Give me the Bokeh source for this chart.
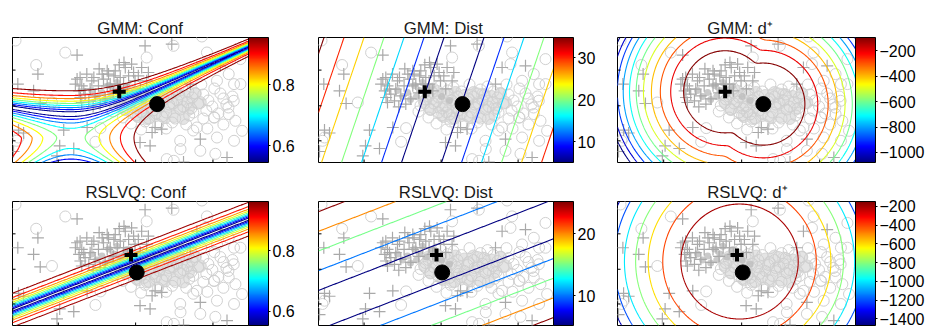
import numpy as np
from bokeh.plotting import figure
from bokeh.layouts import column, row
from bokeh.models import (ColorBar, LinearColorMapper, FixedTicker, Title, CustomJSTickFormatter,
                          LinearAxis)

from bokeh.embed import file_html
from bokeh.resources import INLINE

# ---------------- data ----------------
titles = ["GMM: Conf", "GMM: Dist", "GMM: d\u207a", "RSLVQ: Conf", "RSLVQ: Dist", "RSLVQ: d\u207a"]

x_lim = [0.0, 23.5]
y_lim = [0.0, 12.5]
xtick_vals = [4.56, 12.26, 19.96]
ytick_vals = [2.17, 5.67, 9.24]

# class "+" samples
plus_x = [6.43, 2.53, 0.53, 2.1, 2.76, 0.6, 0.1, 5.1, 4.7, 6.1, 4.43, 7.43, 6.43, 11.1, 13.2, 15.86,
          18.36, 20.7, 14.2, 14.86, 12.7, 13.7, 18.7, 17.03, 21.36, 17.7, 1.1, 13.9,
          6.73, 7.4, 7.9, 6.9, 7.73, 8.56, 9.06, 9.56, 10.23, 10.73, 11.23, 11.56, 12.06, 11.06,
          7.23, 8.23, 6.9, 9.73, 11.86, 12.86, 13.53, 12.53, 13.36, 12.2, 6.26, 8.1, 8.93, 9.43,
          10.1, 7.1, 6.76, 7.6, 9.43, 10.43, 8.73, 10.03, 11.43, 12.73, 9.23, 8.03, 10.63, 8.63, 6.63]
plus_y = [10.74, 8.84, 7.84, 7.17, 5.9, 3.24, 1.1, 3.24, 1.67, 1.4, 0.67, 3.5, 8.34, 10.0, 11.67, 11.84,
          9.5, 9.67, 3.5, 3.34, 2.0, 1.67, 2.34, 0.05, 0.5, 7.84, 2.95, 3.0,
          8.5, 8.84, 8.17, 7.67, 7.34, 7.67, 8.34, 8.84, 9.17, 8.5, 9.5, 8.67, 9.0, 7.84,
          6.84, 6.67, 6.0, 7.84, 9.84, 9.5, 9.0, 8.67, 8.17, 8.17, 7.84, 8.5, 8.84, 9.17,
          8.67, 7.34, 6.5, 6.17, 7.67, 7.84, 5.84, 6.97, 7.17, 7.37, 6.37, 5.57, 9.77, 9.37, 7.17]

# class "o" samples
circ_x = [0.3, 5.26, 2.36, 3.93, 0.6, 8.76, 8.26, 18.86, 16.03, 13.36, 19.36, 19.2, 22.7, 21.53, 22.7,
          20.36, 22.03, 21.53, 18.36, 22.86, 22.2, 20.36, 18.7, 15.36, 16.7, 20.2, 0.4, 16.06, 16.73,
          22.06, 20.06, 22.06,
          12.2, 13.5, 15.1, 16.9, 18.8, 20.1, 11.4, 13.0, 14.3, 15.9, 17.5, 19.0, 20.7, 21.9,
          10.7, 12.0, 13.3, 15.0, 16.4, 17.9, 19.5, 21.0, 10.2, 11.5, 12.7, 15.6, 17.0, 18.5, 19.9, 21.3,
          10.0, 11.2, 12.8, 14.0, 15.3, 16.7, 18.0, 19.3, 20.5, 11.0, 12.3, 13.6, 14.9, 16.2, 17.6, 19.0,
          11.8, 13.2, 14.5, 15.9, 17.3, 12.8, 15.3, 18.0, 20.1, 19.4, 21.5, 21.0,
          11.8, 12.4, 13.8, 14.6, 13.9, 12.9, 14.9, 16.0, 15.5, 16.6, 11.0, 10.6, 13.1, 14.3, 17.4,
          18.2, 16.2, 12.0, 11.5, 17.8]
circ_y = [12.2, 10.99, 9.75, 6.0, 2.5, 3.44, 2.07, 12.6, 11.67, 10.5, 11.0, 9.84, 10.34, 8.84, 7.84,
          8.17, 6.17, 4.84, 3.5, 3.17, 4.17, 2.5, 1.17, 0.34, 2.17, 0.87, 2.17, 0.17, 1.34,
          7.84, 4.5, 2.17,
          7.7, 7.5, 7.8, 7.6, 7.8, 7.4, 7.0, 6.8, 7.1, 6.9, 7.1, 6.8, 6.9, 6.6,
          6.3, 6.5, 6.2, 6.4, 6.2, 6.5, 6.2, 6.4, 5.7, 5.9, 5.6, 5.8, 5.6, 5.9, 5.6, 5.8,
          5.1, 5.3, 5.0, 5.2, 5.0, 5.3, 5.0, 5.2, 4.9, 4.5, 4.7, 4.4, 4.6, 4.4, 4.7, 4.4,
          3.9, 4.1, 3.8, 4.0, 3.8, 3.3, 3.4, 3.2, 4.5, 3.4, 5.5, 3.8,
          6.1, 5.4, 5.9, 5.5, 6.6, 7.2, 6.1, 5.9, 6.6, 6.8, 6.6, 5.9, 4.8, 4.9, 6.0,
          6.9, 7.3, 5.0, 7.4, 5.4]

# very dense part of the "o" cloud (appears as a light grey mass)
mass_x = [11.0, 11.9, 12.8, 13.7, 14.6, 15.5, 16.4, 17.3, 18.2, 10.6, 11.5, 12.4, 13.3, 14.2, 15.1,
          16.0, 16.9, 17.8, 18.7, 11.2, 12.1, 13.0, 13.9, 14.8, 15.7, 16.6, 17.5, 12.5, 13.4, 14.3,
          15.2, 16.1, 17.0]
mass_y = [6.9, 7.1, 6.8, 7.0, 6.7, 7.0, 6.8, 6.6, 6.9, 6.1, 6.3, 6.0, 6.2, 5.9, 6.2, 6.0, 6.1, 5.8,
          6.0, 5.3, 5.5, 5.2, 5.4, 5.1, 5.4, 5.2, 5.3, 4.6, 4.4, 4.7, 4.5, 4.6, 4.4]

# dense core of "+" samples (drawn as small filled dots)
core_x = [7.9, 8.9, 9.6, 8.4, 9.2, 10.1, 10.8, 9.8, 11.3, 10.4, 12.3, 13.1]
core_y = [7.2, 7.0, 7.7, 6.6, 6.3, 7.2, 6.9, 6.6, 7.6, 8.0, 6.6, 6.2]

# prototypes / component means
gmm_plus = [10.63, 7.07]
gmm_circ = [14.4, 5.84]
rslvq_plus = [11.8, 7.1]
rslvq_circ = [12.37, 5.35]

# colour bar limits, ticks and contour levels per panel
cb_low = [0.545, 5.0, -1079.0, 0.553, 5.14, -1470.0]
cb_high = [0.955, 34.8, -95.0, 0.962, 25.25, -147.0]
cb_ticks = [[0.6, 0.8], [10, 20, 30], [-1000, -800, -600, -400, -200],
            [0.6, 0.8], [10, 20], [-1400, -1200, -1000, -800, -600, -400, -200]]
conf_levels = [0.55, 0.60, 0.65, 0.70, 0.75, 0.80, 0.85, 0.90, 0.95]
gmm_dist_levels = [5, 10, 15, 20, 25, 30, 35]
rslvq_dist_levels = [5, 10, 15, 20, 25]
gmm_dplus_levels = [-1100, -1000, -900, -800, -700, -600, -500, -400, -300, -200, -100]
rslvq_dplus_levels = [-1400, -1200, -1000, -800, -600, -400, -200]

# ---------------- model fields ----------------
gx = np.linspace(x_lim[0], x_lim[1], 190)
gy = np.linspace(y_lim[0], y_lim[1], 100)
GX, GY = np.meshgrid(gx, gy)


def jet(t):
    t = min(max(t, 0.0), 1.0)
    r = min(max(1.5 - abs(4 * t - 3), 0), 1)
    g = min(max(1.5 - abs(4 * t - 2), 0), 1)
    b = min(max(1.5 - abs(4 * t - 1), 0), 1)
    return "#%02x%02x%02x" % (int(round(r * 255)), int(round(g * 255)), int(round(b * 255)))


JET = [jet(i / 255.0) for i in range(256)]


def sigmoid_conf(q):
    return 1.0 / (1.0 + np.exp(-np.abs(q)))


# GMM: log-likelihood ratio with a saddle (hyperbola-like decision boundary)
hc = (5.82, 2.5)
hb_up, hb_low, ha = 2.35, 2.8, 4.5
dx, dy = GX - hc[0], GY - hc[1]
a_eff = ha + np.where(dx < 0, 0.97, 0.03) * np.maximum(dy, 0.0)
b_eff = np.where(dy >= 0, hb_up, hb_low)
q_gmm = (dy / b_eff) ** 2 - (dx / a_eff) ** 2 - 1.0
Z_gmm_conf = sigmoid_conf(q_gmm)

# GMM distance to boundary
ug = GX - (12.4 + 0.34 * (GY - 6.17))
Z_gmm_dist = 2.5 * np.abs(ug)

# GMM d+
r1 = (GX - gmm_plus[0]) ** 2 + (GY - gmm_plus[1]) ** 2
r2 = (GX - gmm_circ[0]) ** 2 + (GY - gmm_circ[1]) ** 2
T = 1.0
smin = -T * np.logaddexp(-r1 / T, -r2 / T)
Z_gmm_dplus = 39.6 - 8.29 * smin

# RSLVQ: linear boundary
ur = GY - (10.8 + 0.39 * (GX - 23.7))
Z_rslvq_conf = sigmoid_conf(1.73 * ur)
Z_rslvq_dist = 2.52 * np.abs(ur)

# RSLVQ d+
Z_rslvq_dplus = 81.0 - 8.37 * ((GX - 12.05) ** 2 + (GY - 6.45) ** 2)

fields = [Z_gmm_conf, Z_gmm_dist, Z_gmm_dplus, Z_rslvq_conf, Z_rslvq_dist, Z_rslvq_dplus]
levels = [conf_levels, gmm_dist_levels, gmm_dplus_levels, conf_levels, rslvq_dist_levels, rslvq_dplus_levels]
protos = [(gmm_plus, gmm_circ)] * 3 + [(rslvq_plus, rslvq_circ)] * 3

# ---------------- layout ----------------
frame_w = [236, 235, 238, 236, 235, 238]
frame_h = [125, 125, 125, 124, 124, 124]
b_left = [12, 13, 7, 12, 13, 7]
b_right = [57, 57, 71, 57, 57, 71]
b_top = [37, 37, 37, 31, 31, 31]
b_bot = [8, 8, 8, 9, 9, 9]
title_offset = [84.7, 85.3, 89.7, 73.0, 80.3, 89.7]
title_gap = [12, 12, 12, 10, 10, 10]

FONT = "Liberation Sans"
minus_fmt = CustomJSTickFormatter(code="return (tick < 0 ? '\\u2212' : '') + Math.abs(tick).toString();")

figs = []
for i in range(6):
    p = figure(frame_width=frame_w[i], frame_height=frame_h[i],
               x_range=(x_lim[0], x_lim[1]), y_range=(y_lim[0], y_lim[1]),
               output_backend="svg", toolbar_location=None, title=None,
               min_border_left=b_left[i], min_border_right=b_right[i],
               min_border_top=b_top[i], min_border_bottom=b_bot[i],
               background_fill_color="white", border_fill_color="white")
    # hide the default axes (ticks are drawn as short segments below)
    for ax in list(p.below) + list(p.left):
        ax.visible = False
    # empty (tickless, label-less) axis used as a spacer between frame and title
    spacer = LinearAxis(ticker=FixedTicker(ticks=[]), axis_line_color=None,
                        major_tick_line_color=None, minor_tick_line_color=None,
                        major_tick_in=0, major_tick_out=title_gap[i], minor_tick_out=0,
                        major_label_standoff=0, major_label_text_font_size="1px")
    p.add_layout(spacer, "above")
    p.add_layout(Title(text=titles[i], align="left", offset=title_offset[i],
                       standoff=0, vertical_align="bottom",
                       text_font=FONT, text_font_size="16.8px", text_font_style="normal",
                       text_color="#1a1a1a"), "above")
    p.grid.visible = False
    p.outline_line_color = "black"
    p.outline_line_width = 1
    p.outline_line_alpha = 1.0

    # samples
    p.scatter(mass_x, mass_y, marker="circle", size=12, fill_color="#e4e4e4",
              line_color="#d6d6d6", line_width=1)
    p.scatter(circ_x, circ_y, marker="circle", size=11, fill_color=None,
              line_color="#d0d0d0", line_width=1)
    p.scatter(core_x, core_y, marker="circle", size=7, fill_color="#bdbdbd",
              line_color=None, fill_alpha=0.8)
    p.scatter(plus_x, plus_y, marker="cross", size=12, line_color="#a9a9a9", line_width=1.2)

    # contours
    lo, hi = cb_low[i], cb_high[i]
    cols = [jet((L - lo) / (hi - lo)) for L in levels[i]]
    p.contour(gx, gy, fields[i], levels[i], line_color=cols, line_width=1.1)

    # prototypes
    pp, pc = protos[i]
    p.scatter([pp[0]], [pp[1]], marker="cross", size=13, line_color="black", line_width=4)
    p.scatter([pc[0]], [pc[1]], marker="circle", size=15, fill_color="black", line_color="black")

    # tick marks
    sx = (x_lim[1] - x_lim[0]) / frame_w[i]
    sy = (y_lim[1] - y_lim[0]) / frame_h[i]
    p.segment(x0=xtick_vals, y0=[y_lim[0]] * 3, x1=xtick_vals, y1=[y_lim[0] + 3 * sy] * 3,
              line_color="black", line_width=1)
    p.segment(x0=[x_lim[0]] * 3, y0=ytick_vals, x1=[x_lim[0] + 3 * sx] * 3, y1=ytick_vals,
              line_color="black", line_width=1)

    # colour bar
    mapper = LinearColorMapper(palette=JET, low=lo, high=hi)
    cb = ColorBar(color_mapper=mapper, width=20, padding=0, margin=0,
                  ticker=FixedTicker(ticks=cb_ticks[i]),
                  formatter=minus_fmt,
                  major_label_text_font_size="16px",
                  major_label_text_font=FONT,
                  major_label_text_color="black",
                  bar_line_color="black", bar_line_width=1,
                  major_tick_line_color="black", major_tick_in=0, major_tick_out=2,
                  minor_tick_line_color=None, label_standoff=2,
                  border_line_color=None, background_fill_color=None)
    p.add_layout(cb, "right")
    figs.append(p)

layout = column(row(*figs[:3]), row(*figs[3:]))
open("out.html", "w").write(file_html(layout, INLINE))
